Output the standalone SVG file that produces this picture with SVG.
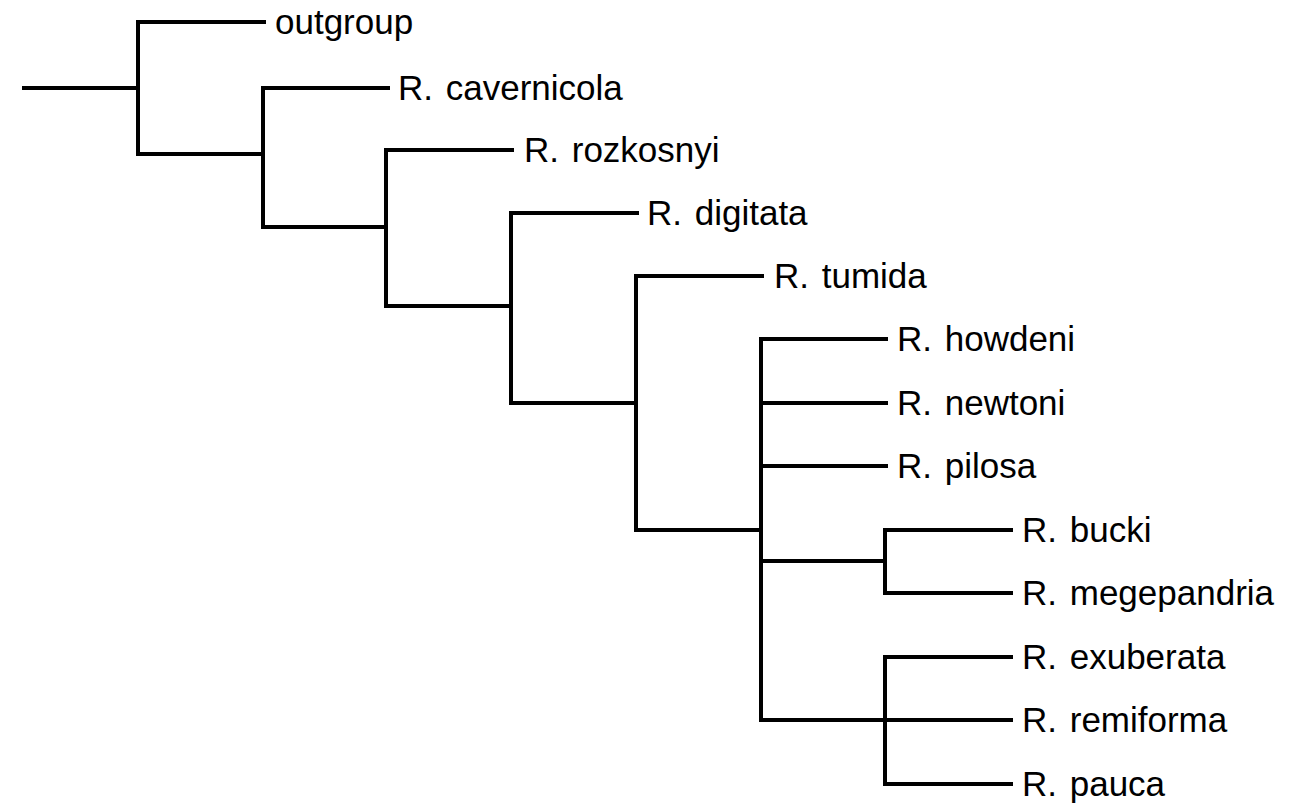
<svg xmlns="http://www.w3.org/2000/svg" width="1295" height="812" viewBox="0 0 1295 812">
<style>
.e{stroke:#000;stroke-width:4;fill:none;stroke-linecap:square;stroke-linejoin:miter}
.t{font-family:"Liberation Sans",Arial,sans-serif;font-size:35px;word-spacing:3px;fill:#000}
</style>
<rect width="1295" height="812" fill="#fff"/>
<g id="connectors">
<path class="e" d="M24 88H138M138 22V154M138 22H264M138 154H263"/>
<path class="e" d="M263 88V227M263 88H388M263 227H386"/>
<path class="e" d="M386 150V306M386 150H512M386 306H511"/>
<path class="e" d="M511 213V403M511 213H637M511 403H636"/>
<path class="e" d="M636 276V530M636 276H762M636 530H761"/>
<path class="e" d="M761 339V720M761 339H886M761 403H886M761 466H886M761 561H885M761 720H885"/>
<path class="e" d="M885 530V593M885 530H1011M885 593H1011"/>
<path class="e" d="M885 657V784M885 657H1011M885 720H1011M885 784H1011"/>
</g>
<g id="outgroup"><text class="t" x="275" y="34">outgroup</text></g>
<g id="cavernicola"><text class="t" x="398" y="100">R. cavernicola</text></g>
<g id="rozkosnyi"><text class="t" x="524" y="162">R. rozkosnyi</text></g>
<g id="digitata"><text class="t" x="647" y="225">R. digitata</text></g>
<g id="tumida"><text class="t" x="774" y="288">R. tumida</text></g>
<g id="howdeni"><text class="t" x="897" y="351">R. howdeni</text></g>
<g id="newtoni"><text class="t" x="897" y="415">R. newtoni</text></g>
<g id="pilosa"><text class="t" x="897" y="478">R. pilosa</text></g>
<g id="bucki"><text class="t" x="1022" y="542">R. bucki</text></g>
<g id="megepandria"><text class="t" x="1022" y="605">R. megepandria</text></g>
<g id="exuberata"><text class="t" x="1022" y="669">R. exuberata</text></g>
<g id="remiforma"><text class="t" x="1022" y="732">R. remiforma</text></g>
<g id="pauca"><text class="t" x="1022" y="796">R. pauca</text></g>
</svg>
